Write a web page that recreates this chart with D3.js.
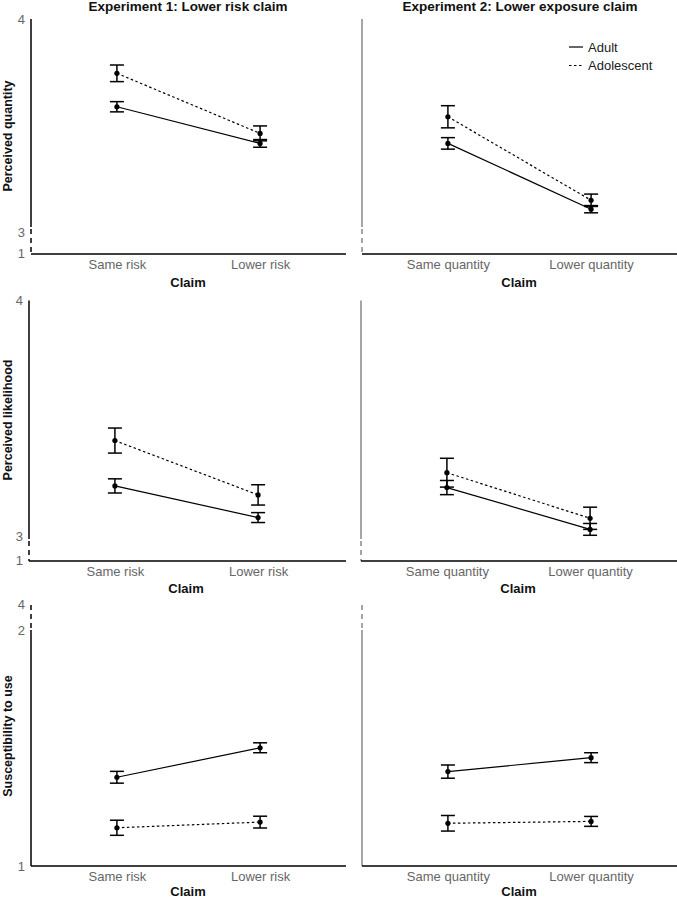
<!DOCTYPE html>
<html>
<head>
<meta charset="utf-8">
<script src="https://cdn.jsdelivr.net/npm/d3@7"></script>
<style>
  body { margin: 0; background: #fff; }
  svg { display: block; font-family: "Liberation Sans", Arial, sans-serif; }
</style>
</head>
<body>
<svg id="chart" width="677" height="900"></svg>
<script>
// ---------- DATA ----------
const panelTitles = ["Experiment 1: Lower risk claim", "Experiment 2: Lower exposure claim"];
const claimsExp1 = ["Same risk", "Lower risk"];
const claimsExp2 = ["Same quantity", "Lower quantity"];
const groups = ["Adult", "Adolescent"];
const yTitles = ["Perceived quantity", "Perceived likelihood", "Susceptibility to use"];
const xTitle = "Claim";

// Perceived quantity (means and error half-widths)
const quantityExp1Adult = [3.588, 3.416];
const quantityExp1AdultErr = [0.024, 0.018];
const quantityExp1Adolescent = [3.745, 3.463];
const quantityExp1AdolescentErr = [0.039, 0.035];
const quantityExp2Adult = [3.416, 3.107];
const quantityExp2AdultErr = [0.027, 0.017];
const quantityExp2Adolescent = [3.541, 3.149];
const quantityExp2AdolescentErr = [0.052, 0.029];

// Perceived likelihood
const likelihoodExp1Adult = [3.215, 3.081];
const likelihoodExp1AdultErr = [0.030, 0.021];
const likelihoodExp1Adolescent = [3.407, 3.177];
const likelihoodExp1AdolescentErr = [0.053, 0.043];
const likelihoodExp2Adult = [3.208, 3.031];
const likelihoodExp2AdultErr = [0.030, 0.025];
const likelihoodExp2Adolescent = [3.271, 3.078];
const likelihoodExp2AdolescentErr = [0.061, 0.047];

// Susceptibility to use
const susceptExp1Adult = [1.376, 1.501];
const susceptExp1AdultErr = [0.025, 0.021];
const susceptExp1Adolescent = [1.162, 1.186];
const susceptExp1AdolescentErr = [0.032, 0.025];
const susceptExp2Adult = [1.400, 1.459];
const susceptExp2AdultErr = [0.028, 0.021];
const susceptExp2Adolescent = [1.181, 1.189];
const susceptExp2AdolescentErr = [0.033, 0.021];

// y tick labels (shown) and axis-break labels
const yTicksRow1 = [3, 4];
const yTicksRow2 = [3, 4];
const yTicksRow3 = [1, 2];
const breakLabelRow1 = "1";
const breakLabelRow2 = "1";
const breakLabelRow3 = "4";
const yDomainRow1 = [3, 4];
const yDomainRow2 = [3, 4];
const yDomainRow3 = [1, 2];

// ---------- LAYOUT ----------
const svg = d3.select("#chart");
const W = 677;

const rows = [
  { title: yTitles[0], domain: yDomainRow1, ticks: yTicksRow1, breakLabel: breakLabelRow1,
    axisLX: 31, axisRX: 362, xAxisY: 254, yLow: 232, yHigh: 19, breakAtBottom: true, dashFrom: 227, claimDy: 33,
    data: [[quantityExp1Adult, quantityExp1AdultErr, quantityExp1Adolescent, quantityExp1AdolescentErr],
           [quantityExp2Adult, quantityExp2AdultErr, quantityExp2Adolescent, quantityExp2AdolescentErr]] },
  { title: yTitles[1], domain: yDomainRow2, ticks: yTicksRow2, breakLabel: breakLabelRow2,
    axisLX: 29, axisRX: 361, xAxisY: 561, yLow: 536.7, yHigh: 300.5, breakAtBottom: true, dashFrom: 539, claimDy: 32,
    data: [[likelihoodExp1Adult, likelihoodExp1AdultErr, likelihoodExp1Adolescent, likelihoodExp1AdolescentErr],
           [likelihoodExp2Adult, likelihoodExp2AdultErr, likelihoodExp2Adolescent, likelihoodExp2AdolescentErr]] },
  { title: yTitles[2], domain: yDomainRow3, ticks: yTicksRow3, breakLabel: breakLabelRow3,
    axisLX: 31, axisRX: 362, xAxisY: 866, yLow: 866, yHigh: 630, breakAtBottom: false, dashTop: 605, claimDy: 30,
    data: [[susceptExp1Adult, susceptExp1AdultErr, susceptExp1Adolescent, susceptExp1AdolescentErr],
           [susceptExp2Adult, susceptExp2AdultErr, susceptExp2Adolescent, susceptExp2AdolescentErr]] }
];

const claimsByPanel = [claimsExp1, claimsExp2];
const tickGray = "#666";

// Column titles
[[188, panelTitles[0]], [520, panelTitles[1]]].forEach(([x, t]) => {
  svg.append("text").attr("x", x).attr("y", 11).attr("text-anchor", "middle")
    .attr("font-size", 13.5).attr("font-weight", "bold").attr("fill", "#111").text(t);
});

rows.forEach((row, ri) => {
  const y = d3.scaleLinear().domain(row.domain).range([row.yLow, row.yHigh]);

  // y axis title
  const midY = ri === 0 ? 136 : (ri === 1 ? 420 : 736);
  svg.append("text")
    .attr("transform", `translate(12,${midY}) rotate(-90)`)
    .attr("text-anchor", "middle").attr("font-size", 12.5).attr("font-weight", "bold")
    .attr("fill", "#111").text(row.title);

  [0, 1].forEach(pi => {
    const ax = pi === 0 ? row.axisLX : row.axisRX;
    const xEnd = pi === 0 ? 346 : W;
    const x = d3.scalePoint().domain(claimsByPanel[pi]).range([ax, ax + 315]).padding(0.6);
    const axisColor = pi === 0 ? "#000" : "#888";
    const g = svg.append("g");

    // y axis with break
    if (row.breakAtBottom) {
      g.append("line").attr("x1", ax).attr("x2", ax).attr("y1", y(row.domain[1])).attr("y2", row.dashFrom)
        .attr("stroke", axisColor).attr("stroke-width", 1.5);
      g.append("line").attr("x1", ax).attr("x2", ax).attr("y1", row.dashFrom + 2).attr("y2", row.xAxisY)
        .attr("stroke", axisColor).attr("stroke-width", 1.5).attr("stroke-dasharray", "5,4");
    } else {
      g.append("line").attr("x1", ax).attr("x2", ax).attr("y1", row.dashTop).attr("y2", y(row.domain[1]) - 2)
        .attr("stroke", axisColor).attr("stroke-width", 1.5).attr("stroke-dasharray", "5,4");
      g.append("line").attr("x1", ax).attr("x2", ax).attr("y1", y(row.domain[1])).attr("y2", row.xAxisY)
        .attr("stroke", axisColor).attr("stroke-width", 1.5);
    }

    // y tick labels (left panel only)
    if (pi === 0) {
      const yAxis = d3.axisLeft(y).tickValues(row.ticks).tickSize(0).tickPadding(6).tickFormat(d3.format("d"));
      const ga = svg.append("g").attr("transform", `translate(${ax},0)`).call(yAxis);
      ga.select(".domain").remove();
      ga.selectAll("text").attr("font-size", 13).attr("fill", tickGray)
        .attr("font-family", "'Liberation Sans', Arial, sans-serif");
      const by = row.breakAtBottom ? row.xAxisY : row.dashTop;
      svg.append("text").attr("x", ax - 6).attr("y", by).attr("dy", "0.32em")
        .attr("text-anchor", "end").attr("font-size", 13).attr("fill", tickGray).text(row.breakLabel);
    }

    // x axis
    const xAxis = d3.axisBottom(x).tickSize(0).tickPadding(6);
    const gx = svg.append("g").attr("transform", `translate(0,${row.xAxisY})`).call(xAxis);
    gx.select(".domain").remove();
    gx.selectAll("text").attr("font-size", 13).attr("fill", tickGray)
      .attr("font-family", "'Liberation Sans', Arial, sans-serif");
    svg.append("line").attr("x1", ax).attr("x2", xEnd).attr("y1", row.xAxisY).attr("y2", row.xAxisY)
      .attr("stroke", "#000").attr("stroke-width", 1.5);
    svg.append("text").attr("x", ax + 157).attr("y", row.xAxisY + row.claimDy).attr("text-anchor", "middle")
      .attr("font-size", 13).attr("font-weight", "bold").attr("fill", "#111").text(xTitle);

    // series
    const d = row.data[pi];
    const series = [
      { name: groups[0], means: d[0], errs: d[1], dash: null },
      { name: groups[1], means: d[2], errs: d[3], dash: "2.5,2.5" }
    ];
    const cats = claimsByPanel[pi];
    series.forEach(s => {
      const pts = cats.map((c, i) => ({ c, m: s.means[i], e: s.errs[i] }));
      const line = d3.line().x(p => x(p.c)).y(p => y(p.m));
      g.append("path").datum(pts).attr("d", line).attr("fill", "none")
        .attr("stroke", "#000").attr("stroke-width", 1.2)
        .attr("stroke-dasharray", s.dash);
      pts.forEach(p => {
        const cx = x(p.c);
        g.append("line").attr("x1", cx).attr("x2", cx).attr("y1", y(p.m - p.e)).attr("y2", y(p.m + p.e))
          .attr("stroke", "#000").attr("stroke-width", 1.5);
        [p.m - p.e, p.m + p.e].forEach(v => {
          g.append("line").attr("x1", cx - 7).attr("x2", cx + 7).attr("y1", y(v)).attr("y2", y(v))
            .attr("stroke", "#000").attr("stroke-width", 1.5);
        });
        g.append("circle").attr("cx", cx).attr("cy", y(p.m)).attr("r", 2.6).attr("fill", "#000");
      });
    });

    // legend (top-right panel)
    if (ri === 0 && pi === 1) {
      const lg = svg.append("g");
      groups.forEach((name, i) => {
        const ly = 47 + i * 18.5;
        lg.append("line").attr("x1", 569).attr("x2", 583).attr("y1", ly).attr("y2", ly)
          .attr("stroke", "#000").attr("stroke-width", 1.2)
          .attr("stroke-dasharray", i === 1 ? "2.5,2.5" : null);
        lg.append("text").attr("x", 588).attr("y", ly).attr("dy", "0.35em")
          .attr("font-size", 13).attr("fill", "#222").text(name);
      });
    }
  });
});
</script>
</body>
</html>
